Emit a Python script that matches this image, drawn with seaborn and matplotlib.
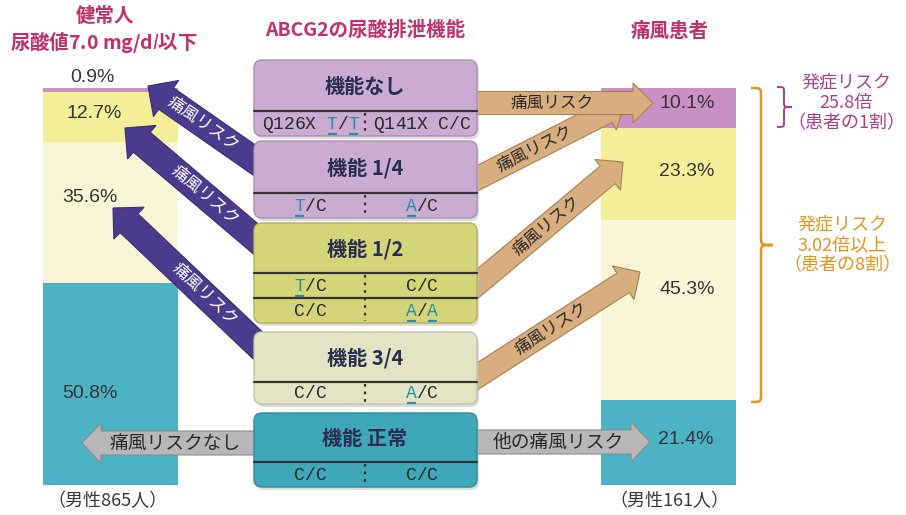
import numpy as np
import pandas as pd
import matplotlib
matplotlib.use("Agg")
import matplotlib.pyplot as plt
import seaborn as sns
from matplotlib.patches import FancyBboxPatch, Polygon, PathPatch
from matplotlib.path import Path

# ---------------- data ----------------
groups = ["健常人", "痛風患者"]
layers = ["機能正常", "機能3/4", "機能1/2", "機能1/4以下"]          # bottom -> top
healthy_pct = [50.8, 35.6, 12.7, 0.9]
gout_pct = [21.4, 45.3, 23.3, 10.1]
group_notes = ["（男性865人）", "（男性161人）"]

box_titles = ["機能なし", "機能 1/4", "機能 1/2", "機能 3/4", "機能 正常"]
box_rows = [
    [("Q126X T/T", [6, 8], "Q141X C/C", [])],
    [("T/C", [0], "A/C", [0])],
    [("T/C", [0], "C/C", []), ("C/C", [], "A/A", [0, 2])],
    [("C/C", [], "A/C", [0])],
    [("C/C", [], "C/C", [])],
]
risk_label = "痛風リスク"
no_risk_label = "痛風リスクなし"
other_risk_label = "他の痛風リスク"
risk_notes = ["発症リスク\n25.8倍\n（患者の1割）", "発症リスク\n3.02倍以上\n（患者の8割）"]

# ---------------- style ----------------
sns.set_theme(style="white")
plt.rcParams["font.family"] = ["Noto Sans CJK JP", "DejaVu Sans"]

W, H = 906, 515
fig = plt.figure(figsize=(W / 100, H / 100), dpi=100)
fig.patch.set_facecolor("white")

# bar axes: x in pixels, y in percent
BAR_BOTTOM, BAR_TOP = 485, 88
scale = (BAR_BOTTOM - BAR_TOP) / 100.0
ax = fig.add_axes([0, 0, 1, 1])
ax.set_facecolor("white")

layer_colors = ["#4bb3c4", "#f8f6d7", "#f3ef98", "#c891c4"]
xpos = [110, 668]
cum_h = np.cumsum(healthy_pct)
cum_g = np.cumsum(gout_pct)
df = pd.DataFrame({"x": np.repeat(xpos, len(layers)),
                   "layer": layers * 2,
                   "cum": np.concatenate([cum_h, cum_g])})
bw = 135 / (xpos[1] - xpos[0])
for i in range(len(layers) - 1, -1, -1):
    sub = df[df["layer"] == layers[i]]
    sns.barplot(data=sub, x="x", y="cum", native_scale=True, width=bw,
                color=layer_colors[i], saturation=1, errorbar=None,
                linewidth=0, ax=ax)
ax.set_xlim(0, W)
ax.set_ylim((BAR_BOTTOM - H) / scale, BAR_BOTTOM / scale)
ax.axis("off")

# overlay axes in pixel coordinates
ov = fig.add_axes([0, 0, 1, 1])
ov.set_xlim(0, W)
ov.set_ylim(H, 0)
ov.axis("off")
ov.patch.set_alpha(0)

DARK = "#2b2f4f"
TEALT = "#2a90a8"
MAG = "#c2306c"


def arrow(x0, y0, x1, y1, w, hw, hl, fc, ec, z):
    d = np.array([x1 - x0, y1 - y0], float)
    u = d / np.hypot(*d)
    n = np.array([-u[1], u[0]])
    p0 = np.array([x0, y0], float)
    tip = np.array([x1, y1], float)
    pb = tip - u * hl
    pts = [p0 + n * w / 2, pb + n * w / 2, pb + n * hw / 2, tip,
           pb - n * hw / 2, pb - n * w / 2, p0 - n * w / 2]
    ov.add_patch(Polygon(pts, closed=True, fc=fc, ec=ec, lw=0.8, zorder=z))


def along(xa, ya, xb, yb, t, s, color, fs, z):
    ang = np.degrees(np.arctan2(-(yb - ya), xb - xa))
    x = xa + (xb - xa) * t
    y = ya + (yb - ya) * t
    ov.text(x, y, s, rotation=ang, rotation_mode="anchor", ha="center",
            va="center", color=color, fontsize=fs, zorder=z)


# purple arrows (to healthy bar)  apex <- tail
PURP = "#4a3b8f"
purple_arrows = [((148, 86), (270, 171)), ((125, 128), (270, 251)), ((113, 208), (270, 357))]
for (ax_, ay_), (tx, ty) in purple_arrows:
    arrow(tx, ty, ax_, ay_, 26, 44, 22, PURP, "#3a2d70", 3)
for ((ax_, ay_), (tx, ty)), t in zip(purple_arrows, [0.45, 0.55, 0.58]):
    along(ax_, ay_, tx, ty, t, risk_label, "white", 12, 4)

# tan arrows (to gout bar)
TAN = "#d8ae7e"
tan_arrows = [((470, 182), (625, 103)), ((470, 103), (653, 103)),
              ((470, 290), (623, 162)), ((470, 381), (640, 272))]
tan_t = [0.42, 0.45, 0.5, 0.48]
for i, ((tx, ty), (hx, hy)) in enumerate(tan_arrows):
    arrow(tx, ty, hx, hy, 23, 40, 20, TAN, "#a98050", 3 + i * 0.01)
    along(tx, ty, hx, hy, tan_t[i], risk_label, "#2a2a2a", 12, 3.5 + i * 0.01)

# gray arrows
GRAY = "#b7b7b7"
arrow(265, 443, 82, 443, 24, 40, 19, GRAY, "#8c8c8c", 3)
ov.text(175, 443, no_risk_label, ha="center", va="center", fontsize=13.5, color="#2a2a2a", zorder=4)
arrow(470, 442, 650, 442, 24, 40, 19, GRAY, "#8c8c8c", 3)
ov.text(558, 442, other_risk_label, ha="center", va="center", fontsize=13.5, color="#2a2a2a", zorder=4)

# central boxes
box_geo = [(60, [111], 136), (141, [193], 218), (223, [273, 298], 323),
           (332, [382], 404), (413, [462], 487)]
box_cols = ["#c9accf", "#c9accf", "#d4d479", "#e2e4c5", "#3ea8b8"]
box_edge = ["#a98fb0", "#a98fb0", "#b0b060", "#c2c4a4", "#2f8a98"]
BX0, BX1, DIV = 254, 477, 365
MONO = "Liberation Mono"
GFS = 13
adv = GFS * 0.6 * 100 / 72


def geno(s, hl, cx, cy):
    n = len(s)
    for i, ch in enumerate(s):
        if ch == " ":
            continue
        x = cx + (i - (n - 1) / 2) * adv
        col = TEALT if i in hl else "#2a2a2a"
        ov.text(x, cy, ch, family=MONO, fontsize=GFS, color=col,
                ha="center", va="center", zorder=7)
        if i in hl:
            ov.plot([x - adv * 0.42, x + adv * 0.42], [cy + 9, cy + 9],
                    color=col, lw=1.6, zorder=7, solid_capstyle="butt")


for k, (top, lines, bot) in enumerate(box_geo):
    ov.add_patch(FancyBboxPatch((BX0 + 2, top + 3), BX1 - BX0, bot - top,
                                boxstyle="round,pad=0,rounding_size=8",
                                fc="#bbbbbb", ec="none", alpha=0.5, zorder=4.5))
    ov.add_patch(FancyBboxPatch((BX0, top), BX1 - BX0, bot - top,
                                boxstyle="round,pad=0,rounding_size=8",
                                fc=box_cols[k], ec=box_edge[k], lw=1, zorder=5))
    for ly in lines:
        ov.plot([BX0, BX1], [ly, ly], color="#333333", lw=1.6, zorder=6)
    ov.plot([DIV, DIV], [lines[0] + 2, bot - 2], color="#333333", lw=1.6,
            ls=(0, (1.2, 2.2)), zorder=6)
    ov.text(365, (top + lines[0]) / 2 + 1, box_titles[k], ha="center", va="center",
            fontsize=14.5, color=DARK, fontweight="bold", zorder=7)
    rows_y = [lines[j] + ((lines[j + 1] if j + 1 < len(lines) else bot) - lines[j]) / 2 + 1
              for j in range(len(lines))]
    for (ls_, lh, rs, rh), ry in zip(box_rows[k], rows_y):
        geno(ls_, lh, (BX0 + DIV) / 2 + 1, ry)
        geno(rs, rh, (DIV + BX1) / 2 + 1, ry)

# percent labels
PCT_FONT = "Liberation Sans"
left_pos = [(90, 394), (90, 197), (94, 114), (92, 77)]
right_pos = [(686, 440), (687, 290), (687, 172), (687, 103)]
for v, (x, y) in zip(healthy_pct, left_pos):
    ov.text(x, y, f"{v}%", family=PCT_FONT, fontsize=14, color="#353535",
            ha="center", va="center", zorder=8)
for v, (x, y) in zip(gout_pct, right_pos):
    ov.text(x, y, f"{v}%", family=PCT_FONT, fontsize=14, color="#353535",
            ha="center", va="center", zorder=8)

# titles
ov.text(105, 17, groups[0], ha="center", va="center", fontsize=14, color=MAG, fontweight="bold")
ov.text(104, 42, "尿酸値7.0 mg/d$\\mathit{l}$以下", ha="center", va="center",
        fontsize=14, color=MAG, fontweight="bold")
ov.text(365, 30, "ABCG2の尿酸排泄機能", ha="center", va="center", fontsize=14,
        color=MAG, fontweight="bold")
ov.text(670, 31, groups[1], ha="center", va="center", fontsize=14, color=MAG, fontweight="bold")

# group notes
ov.text(108, 501, group_notes[0], ha="center", va="center", fontsize=13, color="#3a3a3a")
ov.text(669, 501, group_notes[1], ha="center", va="center", fontsize=13, color="#3a3a3a")


# braces
def brace(x0, xm, xt, y0, y1, r, color, lw):
    ym = (y0 + y1) / 2
    verts = [(x0, y0), (xm, y0), (xm, y0), (xm, y0 + r),
             (xm, ym - r),
             (xm, ym), (xm, ym), (xt, ym),
             (xm, ym), (xm, ym), (xm, ym + r),
             (xm, y1 - r),
             (xm, y1), (xm, y1), (x0, y1)]
    codes = [Path.MOVETO, Path.CURVE4, Path.CURVE4, Path.CURVE4,
             Path.LINETO,
             Path.CURVE4, Path.CURVE4, Path.CURVE4,
             Path.CURVE4, Path.CURVE4, Path.CURVE4,
             Path.LINETO,
             Path.CURVE4, Path.CURVE4, Path.CURVE4]
    ov.add_patch(PathPatch(Path(verts, codes), fc="none", ec=color, lw=lw, zorder=6))


ORANGE = "#e8921c"
PURTXT = "#a8408f"
brace(751, 761, 773, 88, 402, 9, ORANGE, 1.8)
brace(777, 784, 792, 87, 127, 5, PURTXT, 1.4)
ov.text(846, 103, risk_notes[0], ha="center", va="center", fontsize=13,
        color=PURTXT, linespacing=1.15)
ov.text(842, 245, risk_notes[1], ha="center", va="center", fontsize=13,
        color=ORANGE, linespacing=1.15)

fig.savefig("out.png", dpi=100)
